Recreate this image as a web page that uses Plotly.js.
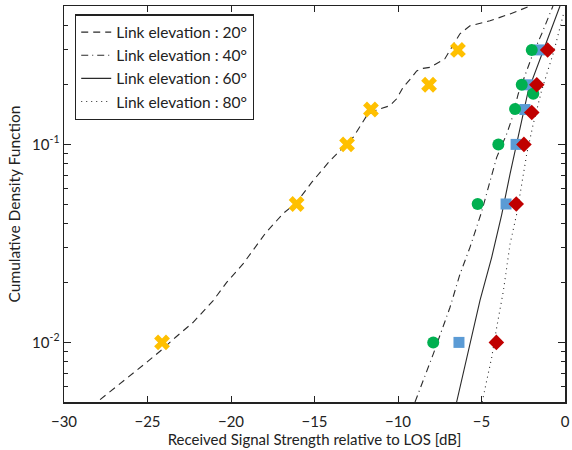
<!DOCTYPE html>
<html>
<head>
<meta charset="utf-8">
<script src="https://cdn.plot.ly/plotly-3.0.1.min.js"></script>
<style>html,body{margin:0;padding:0;background:#fff}#chart{width:572px;height:450px}</style>
</head>
<body>
<div id="chart"></div>
<script>
// Simulated CDF curves (x: dB relative to LOS, y: CDF)
const curve20X = [-27.84,-26.65,-25.05,-24.07,-23.35,-22.28,-21.08,-20.26,-19.28,-17.96,-16.89,-16.07,-15.17,-14.07,-13.29,-12.69,-12.17,-11.87,-11.28,-10.48,-10.08,-9.70,-9.18,-8.88,-8.50,-8.08,-7.19,-6.29,-5.69,-4.49,-3.29,-2.10];
const curve20Y = [0.00514,0.00617,0.00793,0.00929,0.01056,0.0126,0.0162,0.0201,0.0249,0.0354,0.0447,0.0509,0.0643,0.0828,0.0966,0.1084,0.1272,0.1397,0.1493,0.1568,0.170,0.194,0.218,0.235,0.242,0.245,0.271,0.362,0.397,0.421,0.456,0.499];
const curve40X = [-8.98,-7.89,-6.89,-6.29,-5.69,-4.99,-4.59,-4.09,-3.49,-3.19,-2.80,-1.92,-1.40,-0.72];
const curve40Y = [0.005,0.00873,0.0150,0.0221,0.0302,0.0457,0.0607,0.0860,0.113,0.134,0.180,0.287,0.361,0.5];
const curve60X = [-6.49,-5.69,-5.09,-4.39,-3.79,-3.29,-2.69,-2.20,-1.26,-0.30];
const curve60Y = [0.005,0.00982,0.0163,0.0269,0.0442,0.0710,0.122,0.187,0.304,0.5];
const curve80X = [-4.96,-4.39,-4.09,-3.69,-3.29,-2.89,-2.59,-2.29,-1.90,-1.40,-0.66,-0.05];
const curve80Y = [0.005,0.0084,0.0119,0.0182,0.0314,0.0446,0.0631,0.0895,0.127,0.187,0.297,0.47];

// Measured points
const meas20X = [-24.13,-16.07,-13.05,-11.62,-8.14,-6.41];
const meas20Y = [0.01,0.05,0.1,0.15,0.2,0.3];
const meas40X = [-7.89,-5.23,-3.99,-2.99,-1.90,-2.59,-1.99];
const meas40Y = [0.01,0.05,0.1,0.151,0.18,0.2,0.3];
const meas60X = [-6.35,-3.53,-2.93,-2.40,-2.22,-1.53];
const meas60Y = [0.01,0.05,0.1,0.15,0.2,0.3];
const meas80X = [-4.11,-2.92,-2.46,-1.99,-1.69,-1.04];
const meas80Y = [0.01,0.05,0.1,0.145,0.2,0.3];

const legendNames = ['Link elevation : 20°','Link elevation : 40°','Link elevation : 60°','Link elevation : 80°'];
const xTicks = [-30,-25,-20,-15,-10,-5,0];
const yTickVals = [0.01,0.1];
const yTickText = ['10<sup>-2</sup>','10<sup>-1</sup>'];
const yMinorVals = [0.006,0.007,0.008,0.009,0.02,0.03,0.04,0.05,0.06,0.07,0.08,0.09,0.2,0.3,0.4];

const lineCol = '#2a2a2a';
const traces = [
  {x: curve20X, y: curve20Y, mode:'lines', name: legendNames[0], line:{color:lineCol,width:1.1,dash:'7px,5px'}},
  {x: curve40X, y: curve40Y, mode:'lines', name: legendNames[1], line:{color:lineCol,width:1.1,dash:'7px,4px,1px,4px'}},
  {x: curve60X, y: curve60Y, mode:'lines', name: legendNames[2], line:{color:lineCol,width:1.1}},
  {x: curve80X, y: curve80Y, mode:'lines', name: legendNames[3], line:{color:lineCol,width:1.1,dash:'1px,4px'}},
  {x: meas20X, y: meas20Y, mode:'markers', showlegend:false, marker:{symbol:'x',size:14,color:'#FFC000',line:{width:0}}},
  {x: meas60X, y: meas60Y, mode:'markers', showlegend:false, marker:{symbol:'square',size:11,color:'#5B9BD5',line:{width:0}}},
  {x: meas40X, y: meas40Y, mode:'markers', showlegend:false, marker:{symbol:'circle',size:12,color:'#00B050',line:{width:0}}},
  {x: meas80X, y: meas80Y, mode:'markers', showlegend:false, marker:{symbol:'diamond',size:12,color:'#C00000',line:{width:0}}}
];

const fontFam = 'Lato, "Open Sans", sans-serif';
const layout = {
  width:572, height:450,
  margin:{l:64, r:7, t:6, b:48},
  paper_bgcolor:'#fff', plot_bgcolor:'#fff',
  font:{family:fontFam, size:15, color:'#222'},
  showlegend:true,
  legend:{x:0.022, y:0.979, xanchor:'left', yanchor:'top', bgcolor:'#fff', bordercolor:'#222', borderwidth:1.2,
          font:{family:fontFam, size:15.5, color:'#222'}, itemwidth:30, tracegroupgap:0},
  xaxis:{range:[-30,0], tickmode:'array', tickvals:xTicks, ticks:'inside', ticklen:6, tickcolor:'#222',
         showline:true, linecolor:'#222', linewidth:1.5, mirror:'allticks', showgrid:false, zeroline:false,
         ticklabelstandoff:5,
         tickfont:{family:fontFam,size:15,color:'#222'},
         title:{text:'Received Signal Strength relative to LOS [dB]', font:{family:fontFam,size:15,color:'#222'}, standoff:5}},
  yaxis:{type:'log', range:[Math.log10(0.005), Math.log10(0.5)], tickmode:'array', tickvals:yTickVals, ticktext:yTickText,
         ticks:'inside', ticklen:7, tickcolor:'#222', showline:true, linecolor:'#222', linewidth:1.5, mirror:'allticks',
         showgrid:false, zeroline:false, tickfont:{family:fontFam,size:15,color:'#222'},
         minor:{tickmode:'array', tickvals:yMinorVals, ticks:'inside', ticklen:4, tickcolor:'#222', showgrid:false},
         title:{text:'Cumulative Density Function', font:{family:fontFam,size:15.5,color:'#222'}, standoff:7}}
};
Plotly.newPlot('chart', traces, layout, {displayModeBar:false, staticPlot:true});
</script>
</body>
</html>
